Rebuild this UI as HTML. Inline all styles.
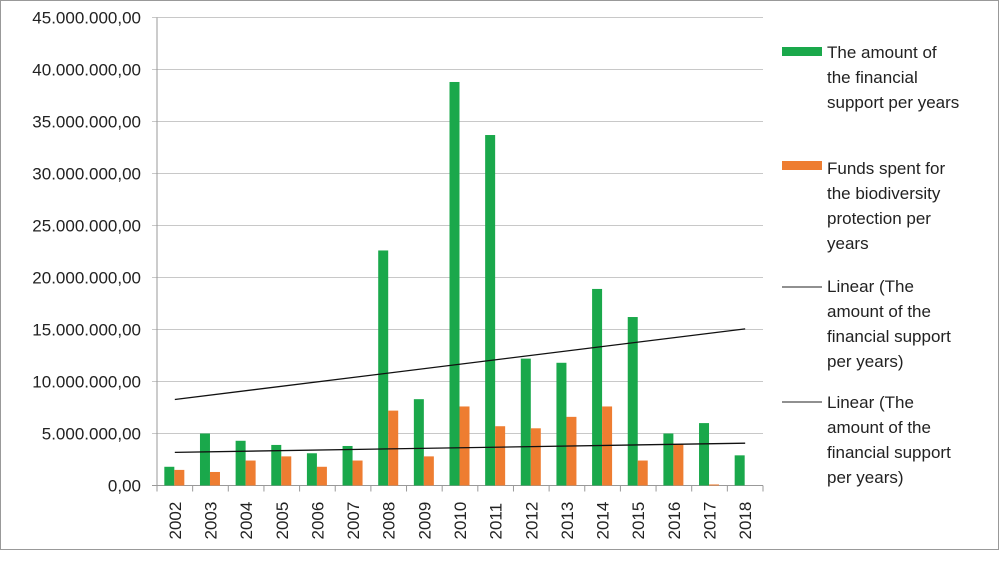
<!DOCTYPE html>
<html><head><meta charset="utf-8"><style>
body{margin:0;background:#fff;}
svg{display:block;font-family:"Liberation Sans",sans-serif;}
</style></head><body>
<svg width="1000" height="574">
<rect x="0.5" y="0.5" width="998" height="549" fill="#fff" stroke="#999"/>
<g id="grid"></g><g id="bars"></g><g id="trends"></g><g id="axes"></g>
<g font-size="17" fill="#222">
<rect x="782" y="47" width="40" height="9" fill="#1aa84b"/>
<text x="827" y="58"><tspan x="827">The amount of</tspan><tspan x="827" dy="25">the financial</tspan><tspan x="827" dy="25">support per years</tspan></text>
<rect x="782" y="161" width="40" height="9" fill="#ee7d31"/>
<text x="827" y="174"><tspan x="827">Funds spent for</tspan><tspan x="827" dy="25">the biodiversity</tspan><tspan x="827" dy="25">protection per</tspan><tspan x="827" dy="25">years</tspan></text>
<line x1="782" y1="287" x2="822" y2="287" stroke="#222"/>
<text x="827" y="292"><tspan x="827">Linear (The</tspan><tspan x="827" dy="25">amount of the</tspan><tspan x="827" dy="25">financial support</tspan><tspan x="827" dy="25">per years)</tspan></text>
<line x1="782" y1="402" x2="822" y2="402" stroke="#222"/>
<text x="827" y="408"><tspan x="827">Linear (The</tspan><tspan x="827" dy="25">amount of the</tspan><tspan x="827" dy="25">financial support</tspan><tspan x="827" dy="25">per years)</tspan></text>
</g>
</svg>
<script>
const years=["2002","2003","2004","2005","2006","2007","2008","2009","2010","2011","2012","2013","2014","2015","2016","2017","2018"];
const support=[1.8,5.0,4.3,3.9,3.1,3.8,22.6,8.3,38.8,33.7,12.2,11.8,18.9,16.2,5.0,6.0,2.9];
const funds=[1.5,1.3,2.4,2.8,1.8,2.4,7.2,2.8,7.6,5.7,5.5,6.6,7.6,2.4,4.0,0.1,0];
const yTicks=[0,5,10,15,20,25,30,35,40,45];
const yTickLabels=["0,00","5.000.000,00","10.000.000,00","15.000.000,00","20.000.000,00","25.000.000,00","30.000.000,00","35.000.000,00","40.000.000,00","45.000.000,00"];
const NS="http://www.w3.org/2000/svg";
const L=157,R=763,T=17.5,B=485.5,cw=(R-L)/years.length;
const y=v=>B-(v/45)*(B-T);
const x=i=>L+i*cw;
function mk(p,tag,a){const e=document.createElementNS(NS,tag);for(const k in a)e.setAttribute(k,a[k]);document.getElementById(p).appendChild(e);return e;}
yTicks.forEach((t,i)=>{
 const g=mk('grid','line',{x1:L-5,x2:R,y1:y(t),y2:y(t),stroke:i==0?'#999':'#c8c8c8'});
 
 
 const tx=mk('axes','text',{x:L-16,y:y(t)+6,'text-anchor':'end','font-size':17,fill:'#222'});
 tx.textContent=yTickLabels[i];
 
 
});
const ya=mk('axes','line',{x1:L,x2:L,y1:T,y2:B,stroke:'#999'});


years.forEach((yr,i)=>{
 const tk=mk('axes','line',{x1:x(i),x2:x(i),y1:B,y2:B+6,stroke:'#999'});
 
 
 const cx=x(i)+cw/2;
 const t=mk('axes','text',{transform:`translate(${cx+6},${B+54}) rotate(-90)`,'font-size':17,fill:'#222'});
 t.textContent=yr;
 
 
 const bw=10;
 const g=mk('bars','rect',{x:cx-bw-0.5,y:y(support[i]),width:bw,height:B-y(support[i]),fill:'#1aa84b'});
 
 
 const o=mk('bars','rect',{x:cx-0.5,y:y(funds[i]),width:bw,height:B-y(funds[i]),fill:'#ee7d31'});
 
 
});
const ta=mk('axes','line',{x1:R,x2:R,y1:B,y2:B+6,stroke:'#999'});


function fit(d){const n=d.length;let sx=0,sy=0,sxy=0,sxx=0;d.forEach((v,i)=>{sx+=i;sy+=v;sxy+=i*v;sxx+=i*i;});const b=(n*sxy-sx*sy)/(n*sxx-sx*sx);return[(sy-b*sx)/n,b];}
[[support,'trend-support'],[funds,'trend-funds']].forEach(([d,n])=>{
 const [a,b]=fit(d);const last=d.length-1;
 const l=mk('trends','line',{x1:x(0)+cw/2,y1:y(a),x2:x(last)+cw/2,y2:y(a+b*last),stroke:'#111','stroke-width':1.3});
 
 
});
</script>
</body></html>
